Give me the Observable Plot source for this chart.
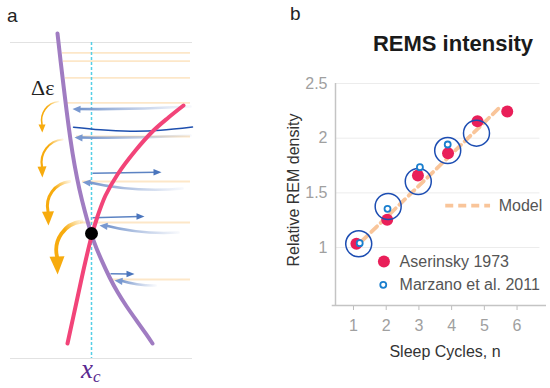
<!DOCTYPE html>
<html><head><meta charset="utf-8">
<script src="https://cdn.jsdelivr.net/npm/d3@7"></script>
<script src="https://cdn.jsdelivr.net/npm/@observablehq/plot@0.6"></script>
<style>
body{margin:0;background:#fff;}
#fig{position:relative;width:550px;height:388px;font-family:"Liberation Sans",Arial,sans-serif;overflow:hidden;background:#fff}
#fig svg{position:absolute;left:0;top:0;overflow:visible;background:transparent}
.lbl{position:absolute;white-space:nowrap;line-height:1}
</style></head><body>
<div id="fig"></div>
<script>
// ---------- Panel b data ----------
const aserN = [1.09, 2.03, 2.97, 3.89, 4.79, 5.70];
const aserY = [1.034, 1.254, 1.659, 1.863, 2.155, 2.244];
const marzN = [1.19, 2.04, 3.03, 3.88];
const marzY = [1.040, 1.354, 1.735, 1.942];
const ringN = [1.16, 2.06, 2.98, 3.88, 4.76];
const ringY = [1.034, 1.375, 1.604, 1.887, 2.046];
const modelN = [1.26, 5.5];
const modelY = [1.06, 2.29];
const xTicks = [1, 2, 3, 4, 5, 6];
const yTicks = [1, 1.5, 2, 2.5];
const legendLabels = ["Model", "Aserinsky 1973", "Marzano et al. 2011"];

// ---------- Panel a (schematic) data ----------
const purpleX = [57, 60, 63, 66, 70, 74, 79, 84, 91, 96, 102, 109, 117, 126, 136, 146, 152];
const purpleY = [33, 60, 85, 110, 140, 165, 190, 210, 235, 248, 262, 277, 292, 306, 320, 334, 343];
const pinkX = [183, 168, 152, 135, 117, 105, 97, 91, 84, 77, 67];
const pinkY = [105, 117, 131, 150, 174, 195, 216, 236, 265, 297, 343];
const levelY = [52.3, 60.7, 77.3, 102.3, 136, 181, 222, 279];
const levelX1 = [62, 63, 65, 66, 76, 82, 80, 110];
const arcX = [73, 100, 130, 160, 192];
const arcY = [126.7, 129.3, 130.7, 129.8, 126.5];
const crossX = [91], crossY = [233];
// orange curved arrows: arc start, head base, head length / half-width, stroke width
const orX1 = [58, 62, 69, 81], orY1 = [101, 139, 181, 221];
const orX2 = [41.5, 41.5, 47.5, 56.5], orY2 = [124, 166, 211, 256];
const orHead = [8, 11, 14, 18], orHalf = [3.5, 4.5, 6, 7.5];
const orW = [1.6, 2.2, 3, 3.8];
// leftward (fading) blue arrows: tail -> tip
const bsX1 = [190, 190], bsY1 = [106, 135], bsX2 = [72, 74], bsY2 = [108.5, 137];
const bcX1 = [182, 178, 155], bcY1 = [188, 232, 285], bcX2 = [82, 99, 114], bcY2 = [181.7, 225, 280];
// rightward blue arrows: tail -> tip
const brX1 = [92, 92, 110], brY1 = [172.7, 217.3, 273.3];
const brX2 = [161, 144, 134], brY2 = [171.7, 216, 273.5];

const fig = document.getElementById("fig");
const font = '"Liberation Sans", Arial, sans-serif';
const idx = n => d3.range(n);

// ---------- Panel a ----------
const orangeHeads = idx(orX1.length).map(i =>
  Plot.vector([i], {x: orX2[i], y: orY2[i], length: orHead[i], r: orHalf[i], rotate: 178,
    shape: "spike", anchor: "start", fill: "#f7ab0e", stroke: "none"}));
const leftHeads = [
  Plot.vector(idx(bsX1.length), {x: i => bsX2[i], y: i => bsY2[i], length: 8, r: 3.6, rotate: 272,
    shape: "spike", anchor: "end", fill: "#7898d0", stroke: "none"}),
  Plot.vector(idx(bcX1.length), {x: i => bcX2[i], y: i => bcY2[i], length: 8, r: 3.6, rotate: 276,
    shape: "spike", anchor: "end", fill: "#7898d0", stroke: "none"})
];
const pa = Plot.plot({
  width: 230, height: 388, margin: 0,
  x: {domain: [0, 230], axis: null},
  y: {domain: [0, 388], reverse: true, axis: null},
  style: {background: "transparent", overflow: "visible"},
  marks: [
    Plot.ruleY(levelY, {x1: (d, i) => levelX1[i], x2: 190, stroke: "#fde7c8", strokeWidth: 1.8}),
    Plot.ruleY([42, 358], {x1: 10, x2: 192, stroke: "#e2e2e2", strokeWidth: 1.2}),
    Plot.ruleX([91], {y1: 42, y2: 358, stroke: "#55cfe6", strokeWidth: 1.5, strokeDasharray: "3,2"}),
    Plot.arrow(idx(bsX1.length), {x1: i => bsX1[i], y1: i => bsY1[i], x2: i => bsX2[i] + 6, y2: i => bsY2[i],
      bend: 2, stroke: "url(#fadeL)", strokeWidth: 2.6, headLength: 0}),
    Plot.arrow(idx(bcX1.length), {x1: i => bcX1[i], y1: i => bcY1[i], x2: i => bcX2[i] + 6, y2: i => bcY2[i],
      bend: 9, stroke: "url(#fadeL)", strokeWidth: 2.6, headLength: 0}),
    ...leftHeads,
    Plot.link(idx(brX1.length), {x1: i => brX1[i], y1: i => brY1[i], x2: i => brX2[i] - 5, y2: i => brY2[i],
      stroke: "#4a75bd", strokeWidth: 1.5, strokeOpacity: 0.9}),
    Plot.vector(idx(brX1.length), {x: i => brX2[i], y: i => brY2[i], length: 8, r: 3.2, rotate: 90,
      shape: "spike", anchor: "end", fill: "#4a75bd", stroke: "none"}),
    Plot.line(idx(arcX.length), {x: i => arcX[i], y: i => arcY[i], curve: "natural", stroke: "#1e4fae", strokeWidth: 1.5}),
    Plot.arrow(idx(orX1.length), {x1: i => orX1[i], y1: i => orY1[i], x2: i => orX2[i], y2: i => orY2[i],
      bend: -48, stroke: "url(#fadeO)", strokeWidth: i => orW[i], headLength: 0}),
    ...orangeHeads,
    Plot.line(idx(purpleX.length), {x: i => purpleX[i], y: i => purpleY[i], curve: "basis", stroke: "#a07cc2", strokeWidth: 4, strokeLinecap: "round"}),
    Plot.line(idx(pinkX.length), {x: i => pinkX[i], y: i => pinkY[i], curve: "catmull-rom", stroke: "#f24479", strokeWidth: 4, strokeLinecap: "round"}),
    Plot.dot(idx(1), {x: i => crossX[i], y: i => crossY[i], r: 6.5, fill: "#000"})
  ]
});
const defs = d3.select(pa).insert("defs", ":first-child");
const gL = defs.append("linearGradient").attr("id", "fadeL").attr("x1", 0).attr("x2", 1).attr("y1", 0).attr("y2", 0);
gL.append("stop").attr("offset", 0).attr("stop-color", "#7394cc").attr("stop-opacity", 1);
gL.append("stop").attr("offset", 1).attr("stop-color", "#95acd8").attr("stop-opacity", 0.08);
const gO = defs.append("linearGradient").attr("id", "fadeO").attr("x1", 1).attr("y1", 0).attr("x2", 0).attr("y2", 1);
gO.append("stop").attr("offset", 0).attr("stop-color", "#f7ab0e").attr("stop-opacity", 0.15);
gO.append("stop").attr("offset", 0.45).attr("stop-color", "#f7ab0e").attr("stop-opacity", 1);
gO.append("stop").attr("offset", 1).attr("stop-color", "#f7ab0e").attr("stop-opacity", 1);
fig.appendChild(pa);

// ---------- Panel b ----------
const pb = Plot.plot({
  width: 550, height: 388,
  marginLeft: 335, marginRight: 4, marginTop: 83, marginBottom: 83,
  x: {domain: [0.45, 6.9]}, y: {domain: [0.47, 2.5]},
  style: {background: "transparent", fontFamily: font, overflow: "visible"},
  marks: [
    Plot.gridY(yTicks, {stroke: "#ececec", strokeOpacity: 1, x1: 0.45, x2: 6.7}),
    Plot.axisY(yTicks, {tickSize: 0, tickPadding: 8, fontSize: 16, fill: "#a0a0a0", label: null, tickFormat: d => String(d)}),
    Plot.axisX(xTicks, {tickSize: 5, tickPadding: 9, fontSize: 16, fill: "#a0a0a0", stroke: "#bdbdbd", label: null}),
    Plot.ruleX([0.45], {y1: 0.47, y2: 2.5, stroke: "#c4c4c4", strokeWidth: 1.5}),
    Plot.ruleY([0.47], {x1: 0.35, x2: 6.9, stroke: "#c4c4c4", strokeWidth: 1.5}),
    Plot.line(idx(modelN.length), {x: i => modelN[i], y: i => modelY[i], stroke: "#f9c59a", strokeWidth: 3.8, strokeDasharray: "8,5"}),
    Plot.dot(idx(aserN.length), {x: i => aserN[i], y: i => aserY[i], r: 6, fill: "#e91f59"}),
    Plot.dot(idx(ringN.length), {x: i => ringN[i], y: i => ringY[i], r: 13, stroke: "#1c4db2", strokeWidth: 1.5, fill: "none"}),
    Plot.dot(idx(marzN.length), {x: i => marzN[i], y: i => marzY[i], r: 3, stroke: "#1a7fce", strokeWidth: 1.8, fill: "#fff"}),
    // legend
    Plot.ruleY([1.384], {x1: 3.82, x2: 5.19, stroke: "#f9c59a", strokeWidth: 3.8, strokeDasharray: "8,5"}),
    Plot.dot([0], {x: 1.93, y: 0.872, r: 6, fill: "#e91f59"}),
    Plot.dot([0], {x: 1.91, y: 0.659, r: 3, stroke: "#1a7fce", strokeWidth: 1.8, fill: "#fff"}),
    Plot.text(legendLabels, {x: [5.44, 2.41, 2.41], y: [1.384, 0.872, 0.659], text: d => d, textAnchor: "start", fontSize: 16, fill: "#555"})
  ]
});
fig.appendChild(pb);

// ---------- HTML labels ----------
function label(html, style) {
  const d = document.createElement("div");
  d.className = "lbl"; d.innerHTML = html;
  Object.assign(d.style, style);
  fig.appendChild(d);
}
label("a", {left: "7px", top: "6px", fontSize: "19px", color: "#222"});
label("b", {left: "290px", top: "4px", fontSize: "19px", color: "#222"});
label("REMS intensity", {left: "453px", top: "33px", fontSize: "22px", fontWeight: "bold", color: "#1a1a1a", transform: "translateX(-50%)"});
label("Sleep Cycles, n", {left: "445px", top: "344px", fontSize: "16px", color: "#333", transform: "translateX(-50%)"});
label("Relative REM density", {left: "294px", top: "190px", fontSize: "16px", color: "#333", transform: "translate(-50%,-50%) rotate(-90deg)"});
label("Δε", {left: "31px", top: "77px", fontSize: "22px", color: "#222", fontFamily: '"Liberation Serif", "DejaVu Serif", serif'});
label('<i>x</i><sub style="font-size:17px;vertical-align:-4px"><i>c</i></sub>', {left: "81px", top: "356px", fontSize: "27px", color: "#5a2a90", fontFamily: '"Liberation Serif", "DejaVu Serif", serif'});
</script>
</body></html>
